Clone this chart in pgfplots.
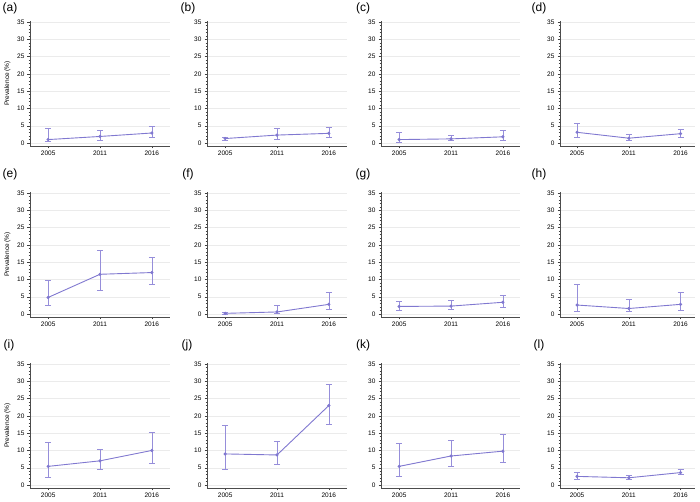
\documentclass[border=0pt]{standalone}
\usepackage{fontspec}
\setmainfont{Liberation Sans}
\usepackage{pgfplots}
\usepackage{pgfplotstable}
\pgfplotsset{compat=1.18}
\definecolor{lav}{RGB}{128,120,208}
\definecolor{lavlight}{RGB}{150,142,218}

\pgfplotstableread{
x y lo hi
0 1.0 0.4 4.3
1 1.9 0.8 3.7
2 2.9 1.7 4.7
}\ta
\pgfplotstableread{
x y lo hi
0 1.3 0.7 1.8
1 2.3 1.2 4.4
2 2.8 1.8 4.5
}\tb
\pgfplotstableread{
x y lo hi
0 1.0 0.3 3.0
1 1.2 0.7 2.2
2 1.8 0.7 3.7
}\tc
\pgfplotstableread{
x y lo hi
0 3.1 1.7 5.6
1 1.4 0.9 2.4
2 2.7 1.7 4.1
}\td
\pgfplotstableread{
x y lo hi
0 4.8 2.4 9.9
1 11.5 7.0 18.3
2 12.0 8.7 16.3
}\te
\pgfplotstableread{
x y lo hi
0 0.2 0.0 0.5
1 0.6 0.2 2.5
2 2.8 1.3 6.2
}\tf
\pgfplotstableread{
x y lo hi
0 2.2 1.2 3.6
1 2.3 1.3 4.0
2 3.4 2.0 5.4
}\tg
\pgfplotstableread{
x y lo hi
0 2.6 0.8 8.6
1 1.6 0.7 4.3
2 2.8 1.2 6.4
}\th
\pgfplotstableread{
x y lo hi
0 5.4 2.3 12.5
1 7.0 4.5 10.2
2 10.0 6.4 15.2
}\ti
\pgfplotstableread{
x y lo hi
0 9.0 4.5 17.4
1 8.7 6.0 12.7
2 23.0 17.7 29.1
}\tj
\pgfplotstableread{
x y lo hi
0 5.4 2.5 12.0
1 8.4 5.4 12.8
2 9.8 6.5 14.6
}\tk
\pgfplotstableread{
x y lo hi
0 2.5 1.8 3.6
1 2.1 1.6 2.7
2 3.6 3.0 4.5
}\tl

\pgfplotsset{
  panel/.style={
    scale only axis,
    anchor=south west,
    height=124.8pt,
    axis lines*=left,
    axis line style={black!70, line width=0.5pt},
    ymin=-0.8, ymax=35.3,
    ytick={0,5,...,35},
    minor y tick num=4,
    xtick={0,1,2},
    xticklabels={2005,2011,2016},
    tick align=outside,
    major tick length=2.5pt,
    minor tick length=1.5pt,
    tick style={black!75, line width=0.4pt},
    ymajorgrids,
    major grid style={black!8, line width=0.4pt},
    tick label style={font=\fontsize{6.5}{7}\selectfont},
    yticklabel style={xshift=0.5pt},
    xticklabel style={yshift=0.5pt},
    /pgf/number format/assume math mode=true,
    label style={font=\fontsize{6.5}{7}\selectfont},
    clip=false,
  },
}

\newcommand{\series}[1]{%
  \addplot[color=lav, line width=0.9pt, mark=*, mark size=1.1pt,
    error bars/.cd, y dir=both, y explicit,
    error bar style={draw=lavlight, line width=0.6pt},
    error mark options={rotate=90, draw=lavlight, mark size=3pt, line width=0.6pt}]
    table[x=x, y=y,
      y error plus expr=\thisrow{hi}-\thisrow{y},
      y error minus expr=\thisrow{y}-\thisrow{lo}] {#1};
}

\begin{document}
\begin{tikzpicture}
\useasboundingbox (0pt,0pt) rectangle (700pt,501pt);

% Row 1
\begin{axis}[panel, at={(30pt,355.2pt)}, width=140pt, xmin=-0.35, xmax=2.35, ylabel={Prevalence (\%)}]
\series{\ta}
\end{axis}
\begin{axis}[panel, at={(207pt,355.2pt)}, width=140pt, xmin=-0.35, xmax=2.35]
\series{\tb}
\end{axis}
\begin{axis}[panel, at={(381pt,355.2pt)}, width=139pt, xmin=-0.35, xmax=2.33]
\series{\tc}
\end{axis}
\begin{axis}[panel, at={(560pt,355.2pt)}, width=135pt, xmin=-0.33, xmax=2.28]
\series{\td}
\end{axis}

% Row 2
\begin{axis}[panel, at={(30pt,184.2pt)}, width=140pt, xmin=-0.35, xmax=2.35, ylabel={Prevalence (\%)}]
\series{\te}
\end{axis}
\begin{axis}[panel, at={(207pt,184.2pt)}, width=140pt, xmin=-0.35, xmax=2.35]
\series{\tf}
\end{axis}
\begin{axis}[panel, at={(381pt,184.2pt)}, width=139pt, xmin=-0.35, xmax=2.33]
\series{\tg}
\end{axis}
\begin{axis}[panel, at={(560pt,184.2pt)}, width=135pt, xmin=-0.33, xmax=2.28]
\series{\th}
\end{axis}

% Row 3
\begin{axis}[panel, at={(30pt,13.2pt)}, width=140pt, xmin=-0.35, xmax=2.35, ylabel={Prevalence (\%)}]
\series{\ti}
\end{axis}
\begin{axis}[panel, at={(207pt,13.2pt)}, width=140pt, xmin=-0.35, xmax=2.35]
\series{\tj}
\end{axis}
\begin{axis}[panel, at={(381pt,13.2pt)}, width=139pt, xmin=-0.35, xmax=2.33]
\series{\tk}
\end{axis}
\begin{axis}[panel, at={(560pt,13.2pt)}, width=135pt, xmin=-0.33, xmax=2.28]
\series{\tl}
\end{axis}

% Panel labels
\begin{scope}[every node/.style={font=\fontsize{12}{13}\selectfont, inner sep=0pt}]
\node at (10pt,493pt) {(a)};
\node at (188pt,493pt) {(b)};
\node at (363pt,493pt) {(c)};
\node at (539pt,493pt) {(d)};
\node at (10pt,327pt) {(e)};
\node at (188pt,327pt) {(f)};
\node at (363pt,327pt) {(g)};
\node at (539pt,327pt) {(h)};
\node at (9pt,156pt) {(i)};
\node at (187pt,156pt) {(j)};
\node at (363pt,156pt) {(k)};
\node at (539pt,156pt) {(l)};
\end{scope}
\end{tikzpicture}
\end{document}
